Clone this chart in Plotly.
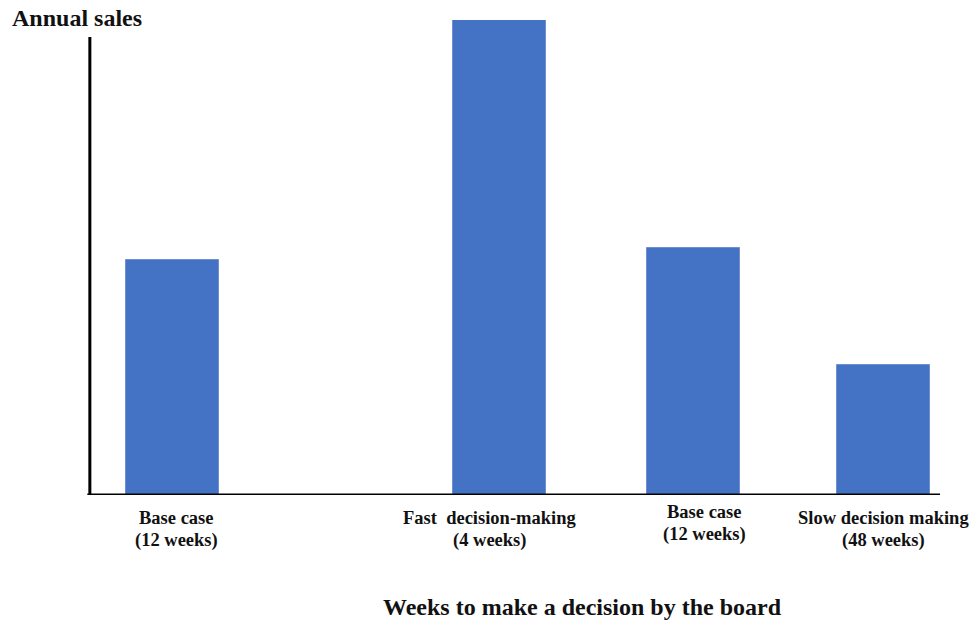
import plotly.graph_objects as go

# Data
scenarios = ["Base case (12 weeks)", "Fast decision-making (4 weeks)",
             "Base case (12 weeks)", "Slow decision making (48 weeks)"]
label_line1 = ["Base case", "Fast  decision-making", "Base case", "Slow decision making"]
label_line2 = ["(12 weeks)", "(4 weeks)", "(12 weeks)", "(48 weeks)"]
annual_sales = [235, 475, 247, 130]
x_pos = [0, 1.72, 2.74, 3.74]

# Styling / layout helpers
label_xshift = [4, -10, 11, 0]
label_yshift = [-23, -23, -17, -23]
FONT = "'Times New Roman', 'Liberation Serif', 'DejaVu Serif', serif"
W, H = 973, 625
L, R, T, B = 89, 33, 20, 130
x_range = [-0.4395, 4.0395]
y_range = [0, 475]

fig = go.Figure()
fig.add_trace(go.Bar(
    x=x_pos, y=annual_sales, width=0.49,
    marker=dict(color="#4472C4", line=dict(color="#6F8FCF", width=1)),
    hoverinfo="skip", showlegend=False,
))

annotations = []
for xp, l1, l2, xs, ys in zip(x_pos, label_line1, label_line2, label_xshift, label_yshift):
    for line, extra in ((l1, 0), (l2, -22)):
        annotations.append(dict(
            x=xp, xref="x", y=0, yref="paper", text=f"<b>{line}</b>",
            showarrow=False, xanchor="center", yanchor="middle",
            xshift=xs, yshift=ys + extra,
            font=dict(family=FONT, size=18.5, color="#111"),
        ))

annotations.append(dict(
    x=0, xref="paper", y=1, yref="paper", text="<b>Annual sales</b>",
    showarrow=False, xanchor="left", yanchor="middle", xshift=-79, yshift=2,
    font=dict(family=FONT, size=24, color="#111"),
))
annotations.append(dict(
    x=(582 - L) / (W - L - R), xref="paper", y=0, yref="paper",
    text="<b>Weeks to make a decision by the board</b>",
    showarrow=False, xanchor="center", yanchor="middle", yshift=-112,
    font=dict(family=FONT, size=24, color="#111"),
))

shapes = [
    dict(type="line", xref="paper", yref="y", x0=0.001, x1=0.001, y0=0, y1=458,
         line=dict(color="black", width=3)),
    dict(type="line", xref="paper", yref="y", x0=-0.002, x1=1, y0=0, y1=0,
         line=dict(color="black", width=3)),
]

fig.update_layout(
    width=W, height=H,
    margin=dict(l=L, r=R, t=T, b=B, pad=0),
    paper_bgcolor="white", plot_bgcolor="white",
    font=dict(family=FONT),
    xaxis=dict(range=x_range, visible=False, fixedrange=True),
    yaxis=dict(range=y_range, visible=False, fixedrange=True),
    annotations=annotations, shapes=shapes,
    bargap=0,
)

fig.write_html("out.html")
